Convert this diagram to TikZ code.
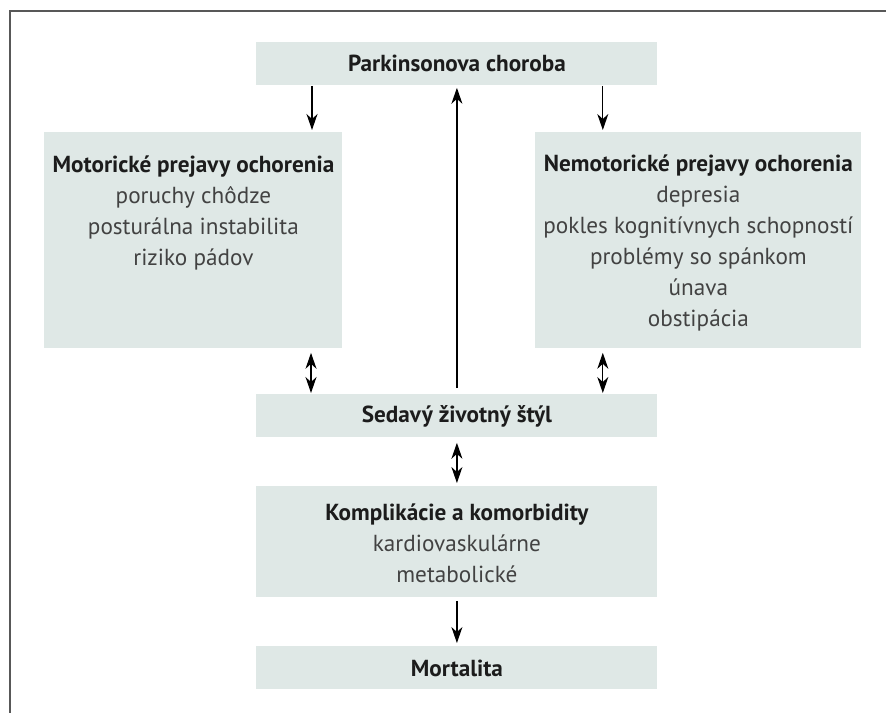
\documentclass[tikz,border=0pt]{standalone}
\usepackage{fontspec}
\setmainfont{PT Sans}
\usetikzlibrary{arrows.meta,positioning}
\definecolor{boxfill}{RGB}{223,232,230}
\definecolor{txtgray}{RGB}{66,66,66}
\definecolor{headblack}{RGB}{28,28,28}
\definecolor{framegray}{RGB}{88,88,88}
\newcommand{\hd}[1]{{\color{headblack}\bfseries #1}}

\begin{document}
\begin{tikzpicture}[x=0.5pt,y=-0.5pt,
  every node/.style={font=\fontsize{11.6}{15.5}\selectfont},
  box/.style={fill=boxfill, inner sep=0pt, anchor=north west, text=headblack},
  txt/.style={align=center, text=txtgray, inner sep=0pt},
  arr/.style={-{Stealth[length=8pt,width=5.5pt,inset=2.5pt]}, line width=0.6pt},
  darr/.style={{Stealth[length=8pt,width=5.5pt,inset=2.5pt]}-{Stealth[length=8pt,width=5.5pt,inset=2.5pt]}, line width=0.6pt}]
  \useasboundingbox (0,0) rectangle (886,713);

  % Frame
  \draw[framegray, line width=1pt] (886,11) -- (10,11) -- (10,713);

  % Boxes
  \node[box, minimum width=200.5pt, minimum height=21.5pt] (park) at (256,42) {\bfseries Parkinsonova choroba};
  \node[box, minimum width=149pt, minimum height=108pt] (motor) at (44,132) {};
  \node[box, minimum width=163pt, minimum height=108pt] (nemo) at (535,132) {};
  \node[box, minimum width=200.5pt, minimum height=21.5pt] (sed) at (256,394) {\bfseries Sedavý životný štýl};
  \node[box, minimum width=200.5pt, minimum height=55.5pt] (kompl) at (256,486) {};
  \node[box, minimum width=200.5pt, minimum height=21.5pt] (mort) at (256,646) {\bfseries Mortalita};

  % Texts in the boxes
  \node[txt, below=11.5pt of motor.north] (motortxt) {\hd{Motorické prejavy ochorenia}\\ poruchy chôdze\\ posturálna instabilita\\ riziko pádov};
  \node[txt, below=11pt of nemo.north] (nemotxt) {\hd{Nemotorické prejavy ochorenia}\\ depresia\\ pokles kognitívnych schopností\\ problémy so spánkom\\ únava\\ obstipácia};
  \node[txt, below=8.5pt of kompl.north] (kompltxt) {\hd{Komplikácie a komorbidity}\\ kardiovaskulárne\\ metabolické};

  % Arrows
  \draw[arr, shorten >=1pt] ([xshift=28pt]park.south west) -- ([xshift=28pt]park.south west |- motor.north);
  \draw[arr, shorten >=1pt] ([xshift=-27.5pt]park.south east) -- ([xshift=-27.5pt]park.south east |- nemo.north);
  \draw[arr, shorten >=1pt] ([yshift=3pt]sed.north) -- (park.south);
  \draw[darr, shorten <=2pt, shorten >=0.5pt] ([xshift=27.5pt]sed.north west |- motor.south) -- ([xshift=27.5pt]sed.north west);
  \draw[darr, shorten <=2pt, shorten >=0.5pt] ([xshift=-27.5pt]sed.north east |- nemo.south) -- ([xshift=-27.5pt]sed.north east);
  \draw[darr, shorten <=2.5pt, shorten >=1.5pt] (sed.south) -- (kompl.north);
  \draw[arr, shorten <=1.5pt, shorten >=1.5pt] (kompl.south) -- (mort.north);
\end{tikzpicture}
\end{document}
